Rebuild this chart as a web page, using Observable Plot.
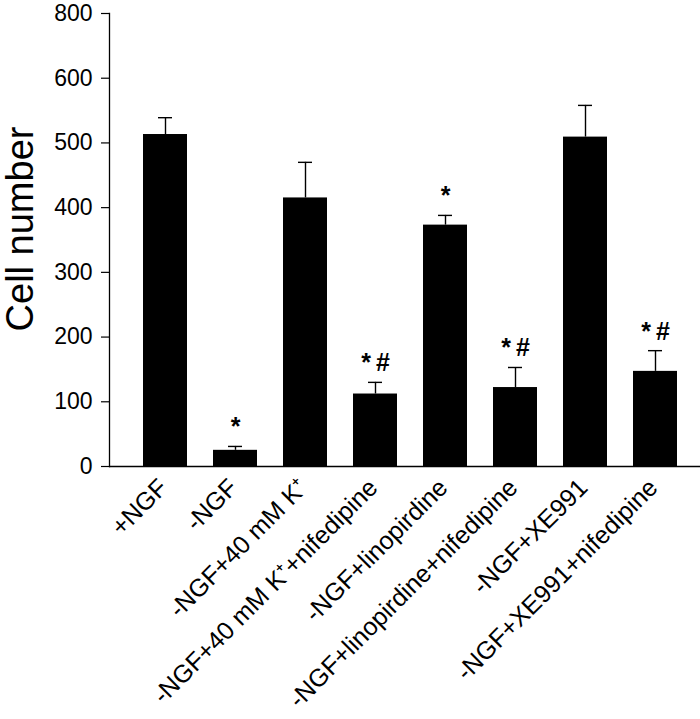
<!DOCTYPE html>
<html>
<head>
<meta charset="utf-8">
<script src="https://cdn.jsdelivr.net/npm/d3@7"></script>
<script src="https://cdn.jsdelivr.net/npm/@observablehq/plot@0.6"></script>
<style>
  html, body { margin: 0; padding: 0; background: #fff; }
  svg { display: block; }
</style>
</head>
<body>
<div id="chart"></div>
<script>
const categories = [
  "+NGF",
  "-NGF",
  "-NGF+40 mM K\u207A",
  "-NGF+40 mM K\u207A+nifedipine",
  "-NGF+linopirdine",
  "-NGF+linopirdine+nifedipine",
  "-NGF+XE991",
  "-NGF+XE991+nifedipine"
];
const means  = [513, 25, 415, 112, 373, 122, 509, 147];
const errors = [26, 6, 55, 18, 15, 31, 49, 32];
const marks  = ["", "*", "", "*#", "*", "*#", "", "*#"];

const yTickValues = [0, 100, 200, 300, 400, 500, 600, 700];
const yTickLabels = ["0", "100", "200", "300", "400", "500", "600", "800"];

const data = categories.map((c, i) => ({
  name: c, mean: means[i], err: errors[i], top: means[i] + errors[i], mark: marks[i]
}));

const font = "'Liberation Sans', Arial, Helvetica, sans-serif";

const chart = Plot.plot({
  width: 700,
  height: 719,
  marginLeft: 109,
  marginRight: 0,
  marginTop: 13,
  marginBottom: 253,
  style: { fontFamily: font, background: "#fff", color: "#000" },
  x: {
    domain: categories,
    range: [129.6, 691.2],
    paddingInner: 0.37,
    paddingOuter: 0.185,
    label: null
  },
  y: {
    domain: [0, 700],
    label: null
  },
  marks: [
    Plot.axisX({ fontSize: 25, tickSize: 0, tickRotate: -45, tickPadding: 17, dx: -2, label: null }),
    Plot.axisY({ ticks: yTickValues, tickFormat: d => yTickLabels[yTickValues.indexOf(d)],
                 fontSize: 23, tickSize: 8, tickPadding: 9, label: null, strokeWidth: 1.2 }),
    Plot.frame({ anchor: "left", strokeWidth: 1.3 }),
    Plot.barY(data, { x: "name", y: "mean", fill: "#000" }),
    Plot.ruleX(data, { x: "name", y1: "mean", y2: "top", stroke: "#000", strokeWidth: 1.4 }),
    Plot.tickY(data, { x: "name", y: "top", insetLeft: 15, insetRight: 15, stroke: "#000", strokeWidth: 1.4 }),
    Plot.ruleY([0], { stroke: "#000", strokeWidth: 1.6 }),
    Plot.text(data.filter(d => d.mark), { x: "name", y: "top",
      text: d => d.mark.split("").join("\u2009"), dy: -19,
      fontSize: 25, fontWeight: "bold", fill: "#000" }),
    Plot.text(["Cell number"], { frameAnchor: "left", textAnchor: "middle", rotate: -90,
      dx: -89, dy: -11, fontSize: 38, fill: "#000" })
  ]
});

document.getElementById("chart").appendChild(chart);
</script>
</body>
</html>
